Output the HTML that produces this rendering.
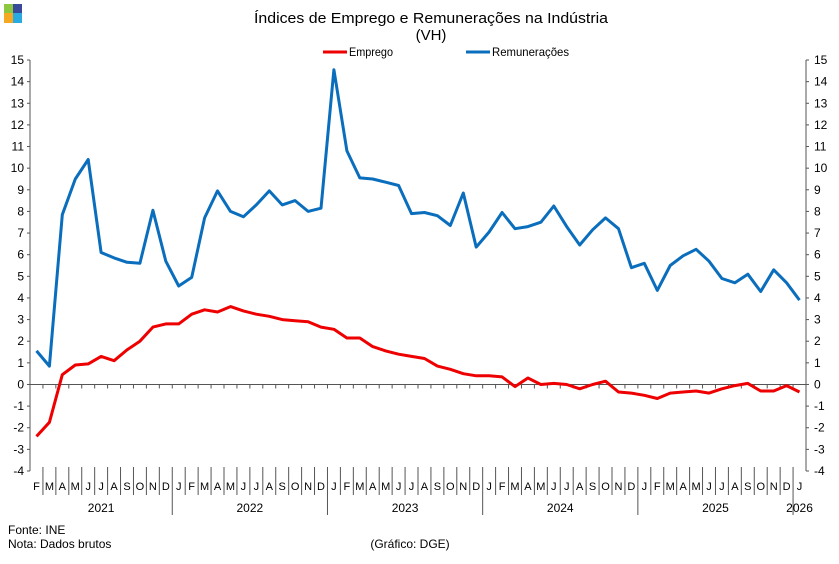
<!DOCTYPE html>
<html><head><meta charset="utf-8"><style>
body{margin:0;background:#fff;}
svg text{font-family:"Liberation Sans",Arial,sans-serif;fill:#000;}
</style></head><body>
<svg id="chart" width="839" height="559" viewBox="0 0 839 559" xmlns="http://www.w3.org/2000/svg">
<g>
<rect x="4" y="4" width="9" height="9" fill="#8dc63f"/><rect x="13" y="4" width="9" height="9" fill="#3a4a9a"/>
<rect x="4" y="13" width="9" height="10" fill="#f7a823"/><rect x="13" y="13" width="9" height="10" fill="#29abe2"/>
</g>
<text x="431" y="23" text-anchor="middle" font-size="15" textLength="354" lengthAdjust="spacingAndGlyphs">Índices de Emprego e Remunerações na Indústria</text>
<text x="431" y="40" text-anchor="middle" font-size="15">(VH)</text>
<g><line x1="323" y1="52" x2="347" y2="52" stroke="#ee0000" stroke-width="3"/><text x="349" y="56" font-size="12" textLength="44" lengthAdjust="spacingAndGlyphs">Emprego</text></g>
<g><line x1="466" y1="52" x2="490" y2="52" stroke="#0a6ebd" stroke-width="3"/><text x="492" y="56" font-size="12" textLength="77" lengthAdjust="spacingAndGlyphs">Remunerações</text></g>
<g id="axes"></g>
<g id="series"></g>
<text x="8" y="534" font-size="12">Fonte: INE</text>
<text x="8" y="548" font-size="12">Nota: Dados brutos</text>
<text x="410" y="548" text-anchor="middle" font-size="12">(Gráfico: DGE)</text>
</svg>
<script>
const months=["F","M","A","M","J","J","A","S","O","N","D","J","F","M","A","M","J","J","A","S","O","N","D","J","F","M","A","M","J","J","A","S","O","N","D","J","F","M","A","M","J","J","A","S","O","N","D","J","F","M","A","M","J","J","A","S","O","N","D","J"];
const years=["2021","2022","2023","2024","2025","2026"];
const yTicks=[15,14,13,12,11,10,9,8,7,6,5,4,3,2,1,0,-1,-2,-3,-4];
const emprego=[-2.4,-1.75,0.45,0.9,0.95,1.3,1.1,1.6,2.0,2.65,2.8,2.8,3.25,3.45,3.35,3.6,3.4,3.25,3.15,3.0,2.95,2.9,2.65,2.55,2.15,2.15,1.75,1.55,1.4,1.3,1.2,0.85,0.7,0.5,0.4,0.4,0.35,-0.1,0.3,0.0,0.05,0.0,-0.2,0.0,0.15,-0.35,-0.4,-0.5,-0.65,-0.4,-0.35,-0.3,-0.4,-0.2,-0.05,0.05,-0.3,-0.3,-0.05,-0.35];
const remuneracoes=[1.55,0.85,7.85,9.5,10.4,6.1,5.85,5.65,5.6,8.05,5.7,4.55,4.95,7.7,8.95,8.0,7.75,8.3,8.95,8.3,8.5,8.0,8.15,14.55,10.8,9.55,9.5,9.35,9.2,7.9,7.95,7.8,7.35,8.85,6.35,7.05,7.95,7.2,7.3,7.5,8.25,7.3,6.45,7.15,7.7,7.2,5.4,5.6,4.35,5.5,5.95,6.25,5.7,4.9,4.7,5.1,4.3,5.3,4.7,3.9];
const NS="http://www.w3.org/2000/svg";
const L=30,R=806,T=60,B=471,yMin=-4,yMax=15;
const n=months.length,bw=(R-L)/n;
const x=i=>L+bw*(i+0.5);
const y=v=>T+(yMax-v)*(B-T)/(yMax-yMin);
function mk(tag,attrs,parent){const e=document.createElementNS(NS,tag);for(const k in attrs)e.setAttribute(k,attrs[k]);parent.appendChild(e);return e;}
const ax=document.getElementById('axes');
const ln=(x1,y1,x2,y2,p)=>mk('line',{x1,y1,x2,y2,stroke:'#555','stroke-width':1},p);
ln(L,T,L,B,ax);ln(R,T,R,B,ax);ln(L,y(0),R,y(0),ax);
yTicks.forEach(v=>{
 ln(L-3,y(v),L,y(v),ax);ln(R,y(v),R+3,y(v),ax);
 const t1=mk('text',{x:L-6,y:y(v)+4,'text-anchor':'end','font-size':12},ax);t1.textContent=v;
 
 
 const t2=mk('text',{x:R+8,y:y(v)+4,'font-size':12},ax);t2.textContent=v;
 
 
});
for(let i=0;i<=n;i++){const xx=L+bw*i;ln(xx,y(0),xx,y(0)+4,ax);ln(xx,B,xx,B-4,ax);}
// month row
let yi=0;const yStarts=[0];
months.forEach((m,i)=>{
 const t=mk('text',{x:x(i),y:490,'text-anchor':'middle','font-size':11},ax);t.textContent=m;
 
 
 if(i>0){const xx=L+bw*i;if(m==="J"&&months[i-1]==="D"){ln(xx,B,xx,515,ax);yStarts.push(i);}else ln(xx,B,xx,495,ax);}
});
yStarts.push(n);
years.forEach((yr,k)=>{
 const s=yStarts[k],e=yStarts[k+1];
 const t=mk('text',{x:(L+bw*s+L+bw*e)/2,y:512,'text-anchor':'middle','font-size':12},ax);t.textContent=yr;
 
 
});
const sg=document.getElementById('series');
function path(vals,col,name){
 const p=mk('path',{d:vals.map((v,i)=>(i?'L':'M')+x(i).toFixed(1)+','+y(v).toFixed(1)).join(''),fill:'none',stroke:col,'stroke-width':3,'stroke-linejoin':'round'},sg);
 
 
}
path(remuneracoes,'#0a6ebd','remuneracoes-line');
path(emprego,'#ee0000','emprego-line');
</script>
</body></html>
